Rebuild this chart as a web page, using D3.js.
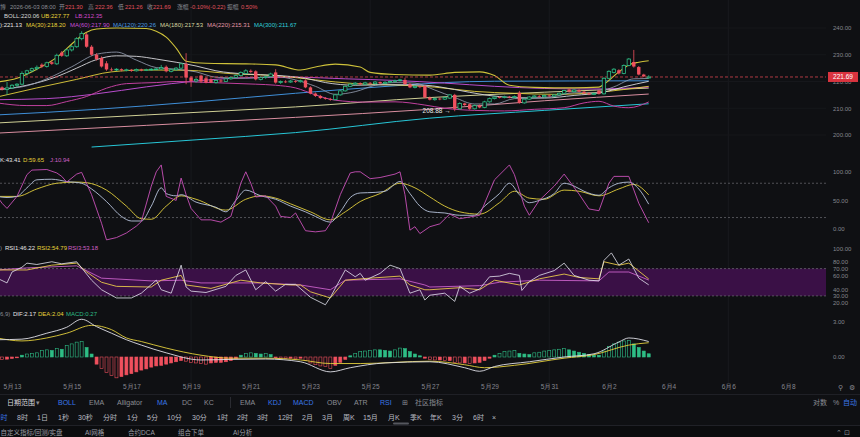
<!DOCTYPE html>
<html>
<head>
<meta charset="utf-8">
<script src="https://cdn.jsdelivr.net/npm/d3@7"></script>
<style>
body { margin: 0; background: #0f1013; overflow: hidden; }
svg { display: block; font-family: "Liberation Sans", "Noto Sans CJK SC", sans-serif; }
</style>
</head>
<body>
<div id="chart"></div>
<script>
// 4h candles, first one at 2026-05-12 12:00
var candle_start    =   new Date(2026, 4, 12, 12);
// [open, high, low, close]
var candles         =   [
    [217.6,218.4,216.9,217.8],[217.8,218.2,216.6,217.0],[217.0,219.8,215.0,217.6],[217.6,219.0,217.2,218.6],
    [218.6,219.4,217.8,219.0],[219.0,223.8,218.6,223.0],[223.0,224.4,222.2,224.0],[224.0,225.2,223.4,224.8],
    [224.8,226.0,224.2,225.3],[226.3,226.8,225.0,225.6],[225.6,227.4,225.2,227.0],[227.2,227.8,226.2,226.6],
    [226.6,230.4,226.2,229.8],[230.8,231.4,229.2,229.6],[229.6,232.2,229.2,231.8],[231.8,233.6,231.2,233.0],
    [233.0,236.6,232.6,236.0],[236.0,238.8,235.4,238.0],[237.6,238.2,232.6,233.0],[233.0,233.6,229.6,230.0],
    [230.0,230.6,227.8,228.4],[228.8,229.4,225.2,225.6],[226.8,227.6,224.0,224.5],[224.5,225.2,223.8,224.3],
    [224.3,225.0,223.9,224.6],[224.6,224.9,223.8,224.2],[224.2,224.8,223.8,224.4],[224.4,224.7,223.6,224.0],
    [224.0,224.9,223.7,224.5],[224.5,224.8,223.8,224.1],[224.1,224.8,223.9,224.4],[224.4,225.0,224.1,224.6],
    [224.6,225.1,224.3,224.7],[224.7,226.2,224.4,225.2],[225.5,226.0,223.4,223.8],[223.8,224.8,223.4,224.4],
    [224.4,225.4,224.0,225.0],[225.0,227.0,224.6,226.6],[226.6,230.6,219.0,221.5],[221.5,222.0,218.0,220.2],
    [220.2,221.4,219.6,220.8],[222.2,222.6,219.4,220.0],[221.2,221.6,219.3,219.6],[220.8,221.2,219.4,219.6],
    [219.6,220.8,219.2,220.4],[220.4,220.9,219.6,220.0],[220.0,221.4,219.8,221.0],[221.0,221.9,220.6,221.5],
    [221.5,222.6,221.2,222.2],[222.2,223.8,221.9,223.4],[223.0,224.6,222.7,224.0],[224.0,224.5,223.2,223.6],
    [223.8,224.2,220.4,220.8],[220.8,221.9,220.4,221.5],[221.5,222.2,221.0,221.8],[221.8,223.3,221.5,222.8],
    [223.4,224.6,219.2,219.6],[219.6,220.4,219.1,220.0],[220.0,220.5,219.4,219.8],[219.8,220.6,219.5,220.2],
    [220.2,220.5,219.5,219.9],[219.9,220.7,219.6,220.3],[220.4,220.8,217.5,217.8],[217.8,218.2,215.2,215.5],
    [215.5,215.9,214.2,214.6],[214.6,215.0,213.5,213.8],[213.8,214.2,213.2,213.5],[213.5,213.9,212.8,213.2],
    [213.2,215.4,213.0,215.0],[215.0,216.8,214.7,216.5],[216.5,218.5,216.2,218.2],[218.2,219.4,217.9,219.0],
    [219.0,219.8,218.7,219.4],[219.4,219.7,218.6,219.0],[219.0,219.9,218.7,219.5],[219.5,219.8,218.9,219.2],
    [219.2,220.2,218.9,219.8],[219.8,220.0,219.0,219.3],[219.3,220.1,219.0,219.7],[219.7,220.4,219.4,220.0],
    [220.0,220.7,219.7,220.3],[220.3,221.0,220.0,220.6],[220.6,221.4,218.8,219.0],[219.0,219.4,217.5,217.8],
    [217.8,218.6,217.4,218.2],[218.2,218.6,217.5,217.9],[218.3,218.7,213.8,214.0],[214.0,214.4,212.9,213.2],
    [213.2,214.0,212.8,213.6],[213.6,214.0,213.0,213.4],[213.4,214.4,213.1,214.0],[213.8,215.3,213.5,215.0],
    [215.0,215.4,208.88,209.8],[209.8,212.2,209.4,211.8],[211.8,212.1,210.9,211.2],[211.5,211.8,209.4,209.8],
    [209.8,211.4,209.5,211.0],[211.0,211.4,210.0,210.3],[210.3,212.8,210.0,212.4],[212.4,214.0,212.1,213.6],
    [213.6,214.6,213.3,214.2],[214.2,214.5,213.7,214.0],[214.0,214.7,213.7,214.3],[214.3,214.6,213.7,214.0],
    [214.0,214.8,213.7,214.4],[215.8,216.5,211.7,212.0],[212.0,213.8,211.7,213.4],[213.4,214.5,213.1,214.2],
    [214.2,214.9,213.9,214.6],[214.6,214.9,214.0,214.3],[214.3,215.1,214.0,214.8],[214.8,215.1,214.2,214.5],
    [214.5,215.3,214.2,215.0],[215.0,215.9,214.7,215.6],[215.6,216.9,215.3,216.6],[217.0,217.4,215.9,216.2],
    [216.2,217.1,215.9,216.8],[216.8,217.1,215.9,216.2],[216.2,216.5,215.3,215.6],[215.6,215.9,214.9,215.2],
    [215.2,215.8,214.9,215.5],[216.6,216.9,215.1,215.4],[215.4,221.6,215.1,221.2],[221.2,224.2,220.8,223.8],
    [223.4,225.0,223.0,224.6],[224.2,224.6,222.6,223.0],[223.0,226.4,222.7,226.0],[226.0,228.8,225.7,228.4],
    [227.3,231.8,225.2,225.6],[225.4,225.8,222.3,222.6],[222.6,222.9,221.6,221.91],[221.30,222.36,221.26,221.69]
];
var last_price      =   221.69;

// overlay lines, [candle index, value]
var boll_ub         =   [[0,219.8],[4,221.2],[8,224.6],[12,229.0],[16,235.6],[18,238.4],[20,239.6],[24,240.0],[30,239.8],[32,238.8],[34,236.6],[36,232.5],[38,227.6],[42,226.8],[50,226.6],[56,226.2],[61,224.3],[64,225.4],[68,226.5],[73,225.4],[75,223.4],[80,222.6],[87,222.4],[92,223.4],[97,223.6],[100,222.2],[103,218.6],[108,217.8],[116,217.6],[121,217.9],[122,219.0],[125,223.6],[127,226.2],[129,227.2],[131,227.77]];
var boll_mid        =   [[0,216.8],[6,218.6],[12,221.8],[16,225.0],[20,228.2],[24,229.6],[28,229.4],[32,228.4],[36,227.2],[40,225.8],[44,224.0],[50,222.8],[56,222.3],[62,221.2],[66,219.6],[72,218.6],[80,218.8],[86,218.6],[92,217.0],[98,215.0],[104,214.0],[110,213.8],[116,214.8],[122,216.0],[126,218.0],[131,220.06]];
var boll_lb         =   [[0,212.0],[6,211.0],[10,211.0],[14,212.5],[18,214.4],[22,217.5],[26,219.2],[32,219.6],[36,220.0],[40,219.8],[46,219.4],[52,219.0],[56,218.6],[60,217.6],[64,215.0],[68,213.0],[74,212.3],[80,212.4],[86,211.2],[90,210.0],[96,209.2],[102,209.0],[108,209.6],[114,210.2],[118,212.0],[121,212.6],[124,210.8],[127,210.2],[131,212.35]];
var ma_fast         =   [[0,217.2],[5,218.0],[10,221.0],[15,225.5],[20,230.2],[24,231.0],[28,228.0],[32,225.2],[36,224.6],[40,223.6],[44,221.6],[50,221.2],[56,221.8],[60,220.6],[64,218.2],[68,215.2],[72,216.2],[76,218.6],[80,219.6],[84,219.4],[88,216.8],[92,214.0],[96,211.6],[100,211.6],[104,213.6],[108,213.8],[112,214.4],[116,215.8],[120,215.8],[124,218.0],[128,221.0],[131,221.13]];
var ma30            =   [[0,214.2],[8,217.6],[16,220.8],[23,223.6],[30,224.3],[38,224.2],[48,222.8],[56,222.2],[64,220.6],[72,219.2],[80,218.7],[88,217.9],[96,216.3],[104,215.6],[112,215.2],[120,215.8],[126,217.0],[131,218.2]];
var ma60            =   [[0,213.2],[10,213.6],[20,215.4],[30,218.0],[40,220.2],[50,221.4],[60,221.6],[70,221.0],[80,220.4],[90,219.4],[100,218.2],[110,217.4],[120,217.2],[131,217.9]];
var ma120           =   [[0,207.5],[20,209.6],[40,212.4],[60,215.6],[80,218.4],[90,219.6],[100,220.1],[115,220.2],[131,220.26]];
var ma180           =   [[0,204.5],[30,207.5],[60,210.5],[87,214.0],[110,216.0],[131,217.53]];
var ma220           =   [[0,200.7],[30,203.6],[60,206.6],[87,209.6],[110,212.8],[131,215.31]];
var ma300           =   [[19,195.5],[40,198.2],[60,200.9],[87,206.3],[110,209.2],[131,211.67]];

// KDJ
var kdj_k           =   [[0,57],[2,55],[4,57],[6,72],[8,86],[11,87],[14,83],[17,80],[19,70],[22,48],[25,22],[27,14],[29,14],[31,40],[33,72],[34,62],[36,58],[37,60],[40,47],[44,38],[46,30],[48,50],[50,68],[53,58],[56,52],[59,40],[62,30],[64,22],[67,12],[69,30],[71,55],[73,63],[76,64],[78,66],[81,83],[83,62],[85,40],[87,30],[90,28],[93,24],[96,24],[98,40],[101,62],[103,80],[105,60],[107,46],[109,50],[112,62],[114,80],[116,75],[118,66],[121,59],[123,72],[125,80],[127,82],[129,70],[131,43.41]];
var kdj_d           =   [[0,57],[4,57],[8,70],[12,80],[16,82],[18,81],[22,68],[26,40],[29,18],[31,17],[34,40],[37,58],[40,52],[46,33],[50,52],[53,58],[56,54],[59,44],[63,30],[67,16],[70,30],[73,48],[77,62],[81,80],[84,72],[87,56],[90,40],[93,30],[97,26],[101,46],[104,66],[107,54],[110,52],[114,68],[117,66],[121,58],[125,70],[128,78],[131,59.65]];
var kdj_j           =   [[0,57],[1,45],[2,36],[4,57],[6,95],[7,103],[10,104],[12,98],[13,92],[14,82],[16,96],[17,99],[19,60],[21,10],[22,-19],[24,-15],[26,-7],[28,5],[29,13],[31,75],[32,100],[33,112],[34,57],[36,50],[37,89],[38,60],[39,36],[41,16],[43,16],[45,12],[47,22],[49,80],[50,100],[51,80],[52,56],[54,58],[56,40],[57,22],[59,20],[60,28],[62,-3],[64,-5],[66,-3],[67,10],[69,60],[71,98],[72,100],[73,100],[75,88],[77,90],[80,96],[81,100],[82,60],[83,-2],[84,4],[85,-8],[87,4],[89,9],[91,26],[93,18],[97,24],[100,86],[103,112],[104,95],[106,40],[107,24],[109,50],[112,75],[114,96],[117,61],[119,35],[121,32],[123,80],[124,92],[127,92],[129,45],[131,10.94]];

// RSI
var rsi1            =   [[0,56],[2,49],[3,65],[5,72],[6,78],[8,76],[11,80],[13,77],[16,80],[17,71],[19,53],[21,39],[24,27],[27,27],[29,34],[32,53],[33,39],[35,34],[37,75],[38,43],[39,37],[42,35],[46,44],[48,60],[50,68],[52,39],[54,51],[56,37],[58,47],[60,47],[63,28],[66,17],[67,28],[70,68],[72,58],[73,63],[74,53],[77,63],[79,75],[81,70],[83,34],[85,39],[86,24],[87,31],[90,34],[92,22],[93,44],[95,34],[97,40],[99,58],[101,59],[103,63],[105,60],[105.6,38],[107,51],[109,60],[112,67],[114,78],[116,60],[119,53],[121,52],[122,82],[123.6,93],[125,75],[127,84],[129,56],[131,46.22]];
var rsi2            =   [[0,68],[6,68],[11,75],[16,78],[18,65],[21,50],[24,44],[31,43],[33,53],[37,60],[38,46],[43,41],[49,53],[53,49],[59,46],[61,46],[63,36],[67,27],[70,53],[75,56],[81,59],[83,46],[86,39],[87,39],[93,42],[97,39],[100,53],[105,46],[109,55],[114,62],[117,57],[121,55],[122,80],[125,75],[127,78],[131,54.79]];
var rsi3            =   [[0,68],[6,71],[16,74],[21,56],[31,52],[37,53],[41,49],[53,49],[61,46],[67,39],[70,53],[81,55],[86,46],[87,43],[97,45],[101,50],[109,53],[121,52],[123,65],[127,65],[131,53.18]];

// MACD
var macd_hist       =   [-0.15,-0.2,-0.18,-0.12,-0.05,0.15,0.25,0.3,0.35,0.55,0.6,0.55,0.7,0.65,0.95,1.1,1.25,1.3,0.8,0.25,
    -0.6,-0.95,-1.3,-1.55,-1.75,-1.65,-1.5,-1.4,-1.25,-1.1,-1.0,-0.85,-0.75,-0.7,-0.6,-0.5,-0.4,-0.3,-0.35,-0.45,
    -0.5,-0.55,-0.6,-0.5,-0.45,-0.45,-0.4,-0.3,-0.15,0.15,0.3,0.35,0.3,0.25,0.3,0.2,-0.05,-0.1,-0.12,-0.1,
    -0.15,-0.1,-0.3,-0.5,-0.65,-0.75,-0.8,-0.95,-0.7,-0.45,-0.2,0.1,0.3,0.45,0.5,0.55,0.6,0.6,0.55,0.5,
    0.6,0.75,0.7,0.45,0.25,0.1,-0.1,-0.2,-0.25,-0.25,-0.3,-0.3,-0.45,-0.5,-0.5,-0.55,-0.5,-0.45,-0.3,-0.1,
    0.15,0.3,0.45,0.5,0.55,0.3,0.25,0.2,0.35,0.4,0.5,0.55,0.6,0.65,0.7,0.6,0.5,0.4,0.3,0.2,
    0.15,0.15,0.5,0.9,1.1,1.25,1.35,1.4,1.1,0.8,0.5,0.27];
var macd_dif        =   [[0,1.45],[5,1.5],[10,2.0],[14,2.5],[17,3.17],[20,2.55],[23,2.0],[26,1.45],[29,1.0],[34,0.35],[41,-0.25],[47,-0.2],[54,-0.17],[61,-0.4],[67,-1.25],[71,-0.9],[78,-0.5],[87,-0.4],[94,-0.9],[97,-1.2],[100,-0.8],[107,-0.4],[114,0.0],[120,0.27],[125,1.26],[127,1.6],[131,1.3]];
var macd_dea        =   [[0,1.6],[5,1.35],[10,1.6],[14,2.0],[19,2.66],[23,2.3],[26,1.6],[29,1.3],[34,0.75],[41,0.15],[47,-0.1],[54,-0.1],[61,-0.25],[67,-0.55],[73,-0.55],[87,-0.35],[94,-0.65],[98,-0.9],[104,-0.7],[114,-0.1],[120,0.2],[127,1.0],[131,1.2]];

// axis ticks
var date_ticks      =   [[5,13],[5,15],[5,17],[5,19],[5,21],[5,23],[5,25],[5,27],[5,29],[5,31],[6,2],[6,4],[6,6],[6,8]];
var grid_days       =   [[5,19],[5,25],[5,31],[6,6]];
var price_ticks     =   [200, 210, 220, 230, 240];
var kdj_ticks       =   [0, 50, 100];
var rsi_ticks       =   [20, 30, 40, 60, 70, 80, 100];
var macd_ticks      =   [0, 3];

// header texts
var head_row1       =   [['博',0,'g'],['2026-06-03 08:00',10,'g'],['开',59,'g'],['221.30',65,'r'],['高',88,'g'],['222.36',95,'r'],
    ['低',118,'g'],['221.26',125,'r'],['收',147,'g'],['221.69',153,'r'],['涨幅',177,'g'],['-0.10%(-0.22)',190,'r'],['振幅',227,'g'],['0.50%',241,'r']];
var head_boll       =   [['BOLL:220.06',4,'#d8d8d8'],['UB:227.77',41,'#e8d33a'],['LB:212.35',75,'#d048c8']];
var head_ma         =   [['):221.13',0,'#e6e6e6'],['MA(30):218.20',26,'#e8d33a'],['MA(60):217.90',70,'#c84fd8'],['MA(120):220.26',113,'#4a9be0'],
    ['MA(180):217.53',160,'#d8d8a0'],['MA(220):215.31',207,'#e39aa8'],['MA(300):211.67',254,'#2fd0dc']];
var head_kdj        =   [['K:43.41',0,'#e6e6e6'],['D:59.65',23,'#e8d33a'],['J:10.94',50,'#d060c8']];
var head_rsi        =   [[')',0,'#8b8d94'],['RSI1:46.22',5,'#e6e6e6'],['RSI2:54.79',37,'#e8d33a'],['RSI3:53.18',68,'#d060c8']];
var head_macd       =   [['6,9)',0,'#8b8d94'],['DIF:2.17',13,'#e6e6e6'],['DEA:2.04',38,'#e8d33a'],['MACD:0.27',66,'#2ebd85']];

// toolbars
var tool_row1       =   [['日期范围',7,0],['▾',36,0],['BOLL',58,1],['EMA',89,0],['Alligator',117,0],['MA',157,1],['DC',182,0],['KC',204,0],
    ['EMA',240,0],['KDJ',268,1],['MACD',293,1],['OBV',327,0],['ATR',354,0],['RSI',380,1],['⊞',402,0],['社区指标',415,0],
    ['对数',813,0],['%',833,0],['自动',843,1]];
var tool_row2       =   [['时',0.5,1],['8时',17,0],['1日',37,0],['1秒',58,0],['30秒',78,0],['分时',103,0],['1分',127,0],['5分',147,0],['10分',167,0],
    ['30分',192,0],['1时',217,0],['2时',237,0],['3时',257,0],['12时',278,0],['2月',302,0],['3月',322,0],['周K',343,0],['15月',363,0],
    ['月K',388,0],['季K',410,0],['年K',430,0],['3分',452,0],['6时',473,0],['×',492,0]];
var tool_row3       =   [['自定义指标/回测/实盘',0.5],['AI网格',85],['合约DCA',128],['组合下单',178],['AI分析',233]];

var chart_width     =   860;
var chart_height    =   437;
var plot_right      =   826;
var bg_color        =   '#0f1013';
var up_color        =   '#2ebd85';
var down_color      =   '#f0505e';
var axis_color      =   '#85878e';

var svg             =   d3.select('#chart')
    .append('svg')
    .attr('width', chart_width)
    .attr('height', chart_height);

svg.append('rect')
    .attr('width', chart_width)
    .attr('height', chart_height)
    .attr('fill', bg_color);

// Scales
var x_scale         =   d3.scaleTime()
    .domain([new Date(2026, 4, 13), new Date(2026, 5, 8)])
    .range([12, 788]);

function candle_time(i) { return d3.timeHour.offset(candle_start, i * 4); }
function xi(i) { return x_scale(candle_time(i)); }

var y_price         =   d3.scaleLinear().domain([200, 240]).range([135, 28]);
var y_kdj           =   d3.scaleLinear().domain([0, 100]).range([229, 171.8]);
var y_rsi           =   d3.scaleLinear().domain([0, 100]).range([316.4, 248.1]);
var y_macd          =   d3.scaleLinear().domain([0, 3]).range([357, 321.3]);

// Clip paths
function add_clip(id, y0, y1) {
    svg.append('clipPath').attr('id', id)
        .append('rect').attr('x', 0).attr('y', y0)
        .attr('width', plot_right).attr('height', y1 - y0);
}
add_clip('clip-main', 0, 150);
add_clip('clip-kdj', 150, 241);
add_clip('clip-rsi', 240, 312);
add_clip('clip-macd', 312, 384);

// Grid
var grid            =   svg.append('g');
grid.selectAll('line.v')
    .data(grid_days)
    .enter()
    .append('line')
    .attr('x1', function(d) { return x_scale(new Date(2026, d[0] - 1, d[1])); })
    .attr('x2', function(d) { return x_scale(new Date(2026, d[0] - 1, d[1])); })
    .attr('y1', 0).attr('y2', 384)
    .attr('stroke', '#18191e').attr('stroke-width', 1);
grid.selectAll('line.h')
    .data(price_ticks)
    .enter()
    .append('line')
    .attr('x1', 0).attr('x2', plot_right)
    .attr('y1', function(d) { return y_price(d); })
    .attr('y2', function(d) { return y_price(d); })
    .attr('stroke', '#16171b');

// RSI band
svg.append('rect')
    .attr('x', 0).attr('width', plot_right)
    .attr('y', y_rsi(70)).attr('height', y_rsi(30) - y_rsi(70))
    .attr('fill', '#3a1046');

function dashed(y) {
    svg.append('line')
        .attr('x1', 0).attr('x2', plot_right)
        .attr('y1', y).attr('y2', y)
        .attr('stroke', '#6d6e74').attr('stroke-width', 0.7)
        .attr('stroke-dasharray', '2,2');
}
dashed(y_kdj(80)); dashed(y_kdj(20));
dashed(y_rsi(70)); dashed(y_rsi(30));

// line helper
function draw_line(g, data, y_scale, color, width, smooth) {
    var line = d3.line()
        .x(function(d) { return xi(d[0]); })
        .y(function(d) { return y_scale(d[1]); })
        .curve(smooth ? d3.curveMonotoneX : d3.curveLinear);
    g.append('path')
        .datum(data)
        .attr('d', line)
        .attr('fill', 'none')
        .attr('stroke', color)
        .attr('stroke-width', width);
}

// Main panel
var main            =   svg.append('g').attr('clip-path', 'url(#clip-main)');
draw_line(main, ma300, y_price, '#27c6d6', 1, true);
draw_line(main, ma220, y_price, '#d98ea0', 1, true);
draw_line(main, ma180, y_price, '#cfcf95', 1, true);
draw_line(main, ma120, y_price, '#3f8fd8', 1, true);
draw_line(main, ma60, y_price, '#b84ccc', 1, true);
draw_line(main, ma30, y_price, '#e3cf3c', 0.9, true);
draw_line(main, boll_lb, y_price, '#c0409e', 1, true);
draw_line(main, boll_ub, y_price, '#cfc23a', 1.1, true);
draw_line(main, boll_mid, y_price, '#d8d8dc', 0.9, true);
draw_line(main, ma_fast, y_price, '#9aa3b8', 0.8, true);

// current price line
main.append('line')
    .attr('x1', 0).attr('x2', plot_right)
    .attr('y1', y_price(last_price)).attr('y2', y_price(last_price))
    .attr('stroke', '#d9444f').attr('stroke-width', 0.8)
    .attr('stroke-dasharray', '3,2');

// Candles
var candle_g        =   main.selectAll('g.candle')
    .data(candles)
    .enter()
    .append('g');
candle_g.append('line')
    .attr('x1', function(d, i) { return xi(i); })
    .attr('x2', function(d, i) { return xi(i); })
    .attr('y1', function(d) { return y_price(d[1]); })
    .attr('y2', function(d) { return y_price(d[2]); })
    .attr('stroke', function(d) { return d[3] >= d[0] ? up_color : down_color; })
    .attr('stroke-width', 0.8);
candle_g.append('rect')
    .attr('x', function(d, i) { return xi(i) - 1.7; })
    .attr('width', 3.4)
    .attr('y', function(d) { return y_price(Math.max(d[0], d[3])); })
    .attr('height', function(d) { return Math.max(0.8, Math.abs(y_price(d[0]) - y_price(d[3]))); })
    .attr('fill', function(d) { return d[3] >= d[0] ? bg_color : down_color; })
    .attr('stroke', function(d) { return d[3] >= d[0] ? up_color : 'none'; })
    .attr('stroke-width', 0.8);

// lowest point label
var low_i           =   d3.minIndex(candles, function(d) { return d[2]; });
var low_y           =   y_price(candles[low_i][2]);
svg.append('text')
    .attr('x', xi(low_i) - 4).attr('y', low_y + 2)
    .attr('text-anchor', 'end')
    .attr('font-size', 6.5).attr('fill', '#e6e6e6')
    .text(d3.format('.2f')(candles[low_i][2]) + ' →');

// KDJ
var kdj_g           =   svg.append('g').attr('clip-path', 'url(#clip-kdj)');
draw_line(kdj_g, kdj_d, y_kdj, '#e3cf3c', 0.9, true);
draw_line(kdj_g, kdj_k, y_kdj, '#b8c4dc', 0.9, true);
draw_line(kdj_g, kdj_j, y_kdj, '#c850b8', 0.9, false);

// RSI
var rsi_g           =   svg.append('g').attr('clip-path', 'url(#clip-rsi)');
draw_line(rsi_g, rsi3, y_rsi, '#c860c8', 0.9, false);
draw_line(rsi_g, rsi2, y_rsi, '#e8c84a', 0.9, false);
draw_line(rsi_g, rsi1, y_rsi, '#e4e4f0', 0.8, false);

// MACD
var macd_g          =   svg.append('g').attr('clip-path', 'url(#clip-macd)');
macd_g.selectAll('rect')
    .data(macd_hist)
    .enter()
    .append('rect')
    .attr('x', function(d, i) { return xi(i) - 1.5; })
    .attr('width', 3)
    .attr('y', function(d) { return d >= 0 ? y_macd(d) : y_macd(0); })
    .attr('height', function(d) { return Math.max(0.8, Math.abs(y_macd(d) - y_macd(0))); })
    .attr('fill', function(d, i) {
        var prev = i > 0 ? macd_hist[i - 1] : 0;
        var grows = Math.abs(d) > Math.abs(prev) && d * prev > 0;
        if (grows) return bg_color;
        return d >= 0 ? up_color : down_color;
    })
    .attr('stroke', function(d) { return d >= 0 ? up_color : down_color; })
    .attr('stroke-width', 0.6);
draw_line(macd_g, macd_dea, y_macd, '#e3cf3c', 0.9, true);
draw_line(macd_g, macd_dif, y_macd, '#e0e0e8', 0.9, true);

// Right axes
function right_axis(scale, ticks) {
    var g = svg.append('g')
        .attr('transform', 'translate(830,0)')
        .call(d3.axisRight(scale).tickValues(ticks).tickSize(0).tickPadding(3).tickFormat(d3.format('.2f')));
    g.select('.domain').remove();
    g.selectAll('text').attr('fill', axis_color).attr('font-size', 6).attr('font-family', 'Liberation Sans, sans-serif');
}
right_axis(y_price, price_ticks);
right_axis(y_kdj, kdj_ticks);
right_axis(y_rsi, rsi_ticks);
right_axis(y_macd, macd_ticks);

// price tag
svg.append('rect')
    .attr('x', 828).attr('y', y_price(last_price) - 5)
    .attr('width', 30).attr('height', 10)
    .attr('fill', '#d9343f');
svg.append('text')
    .attr('x', 843).attr('y', y_price(last_price) + 2.3)
    .attr('text-anchor', 'middle')
    .attr('font-size', 6.5).attr('fill', '#ffffff')
    .text(d3.format('.2f')(last_price));

// X axis
var x_axis          =   d3.axisBottom(x_scale)
    .tickValues(date_ticks.map(function(d) { return new Date(2026, d[0] - 1, d[1]); }))
    .tickSize(0)
    .tickPadding(3)
    .tickFormat(function(d) { return (d.getMonth() + 1) + '月' + d.getDate(); });
var xg              =   svg.append('g')
    .attr('transform', 'translate(0,381)')
    .call(x_axis);
xg.select('.domain').remove();
xg.selectAll('text').attr('fill', axis_color).attr('font-size', 6.5);
svg.append('text').attr('x', 838).attr('y', 390).attr('font-size', 6.5).attr('fill', axis_color).text('⚲');
svg.append('text').attr('x', 849).attr('y', 390).attr('font-size', 6.5).attr('fill', axis_color).text('⚙');

// Headers
function header(items, y, size) {
    svg.append('g').selectAll('text')
        .data(items)
        .enter()
        .append('text')
        .attr('x', function(d) { return d[1]; })
        .attr('y', y)
        .attr('font-size', size || 6)
        .attr('fill', function(d) {
            if (d[2] === 'g') return '#8b8d94';
            if (d[2] === 'r') return '#e0525c';
            return d[2];
        })
        .text(function(d) { return d[0]; });
}
header(head_row1, 8.5, 5.8);
header(head_boll, 17.5);
header(head_ma, 26.5);
header(head_kdj, 161.5);
header(head_rsi, 249.5);
header(head_macd, 315.5);

// Toolbar
svg.append('line').attr('x1', 0).attr('x2', chart_width).attr('y1', 394.5).attr('y2', 394.5).attr('stroke', '#1f2026');
svg.append('line').attr('x1', 230.5).attr('x2', 230.5).attr('y1', 397).attr('y2', 408).attr('stroke', '#2a2b31');
svg.append('rect').attr('x', 0).attr('y', 425).attr('width', chart_width).attr('height', 12).attr('fill', '#0b0c0e');
svg.append('line').attr('x1', 0).attr('x2', chart_width).attr('y1', 425.5).attr('y2', 425.5).attr('stroke', '#202127');
svg.append('rect').attr('x', 393).attr('y', 422.5).attr('width', 16).attr('height', 2).attr('rx', 1).attr('fill', '#55575e');

svg.append('g').selectAll('text')
    .data(tool_row1)
    .enter()
    .append('text')
    .attr('x', function(d) { return d[1]; })
    .attr('y', 405)
    .attr('font-size', 7)
    .attr('fill', function(d, i) { return d[2] ? '#3a78e8' : (i === 0 ? '#d6d7dc' : '#8b8d94'); })
    .text(function(d) { return d[0]; });

svg.append('g').selectAll('text')
    .data(tool_row2)
    .enter()
    .append('text')
    .attr('x', function(d) { return d[1]; })
    .attr('y', 420)
    .attr('font-size', 7)
    .attr('fill', function(d) { return d[2] ? '#3a78e8' : '#b9bbc2'; })
    .text(function(d) { return d[0]; });

svg.append('g').selectAll('text')
    .data(tool_row3)
    .enter()
    .append('text')
    .attr('x', function(d) { return d[1]; })
    .attr('y', 434.5)
    .attr('font-size', 6.5)
    .attr('fill', '#9a9ca3')
    .text(function(d) { return d[0]; });
svg.append('text').attr('x', 836).attr('y', 434.5).attr('font-size', 6.5).attr('fill', '#8b8d94').text('⌃ ⊡');
</script>
</body>
</html>
